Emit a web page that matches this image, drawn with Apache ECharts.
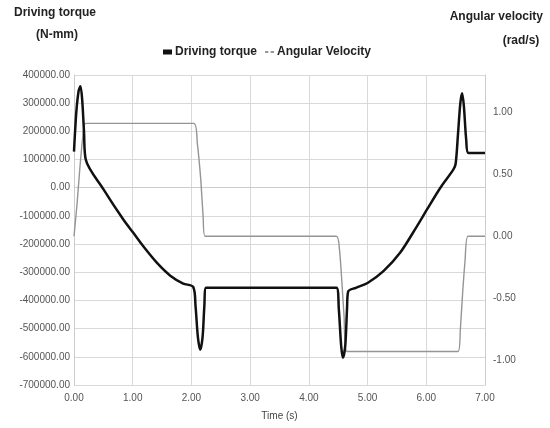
<!DOCTYPE html>
<html lang="en">
<head>
    <meta charset="UTF-8">
    <title>Driving torque / Angular velocity</title>
    <script src="https://cdn.jsdelivr.net/npm/echarts@6/dist/echarts.min.js"></script>
    <style>
        html, body { margin: 0; padding: 0; background: #fff; }
    </style>
</head>
<body>
<div id="main" style="width: 550px;height:428px;"></div>
<script>
    // torque curve (N-mm) vs time (s)
    var torqueTime = [0.00, 0.04, 0.08, 0.11, 0.14, 0.17, 0.20, 0.50, 0.84, 1.01, 1.18, 1.41, 1.64, 1.86, 2.03,
        2.07, 2.11, 2.15, 2.19, 2.22, 2.25, 4.47, 4.51, 4.55, 4.58, 4.62, 4.65, 4.67,
        4.80, 5.00, 5.27, 5.55, 5.84, 6.01, 6.24, 6.46, 6.50, 6.54, 6.58, 6.61, 6.64, 6.68, 6.72, 7.00];
    var torqueValues = [128000, 270000, 345000, 360000, 310000, 200000, 100000, -5000, -113000, -160000, -208000, -266000, -312000, -340000, -352000,
        -420000, -530000, -575000, -530000, -420000, -355000, -355000, -430000, -560000, -603000, -560000, -430000, -368000,
        -355000, -338000, -296000, -232000, -137000, -78000, 0, 64000, 85000, 190000, 300000, 335000, 290000, 170000, 123000, 123000];

    // angular velocity (rad/s) vs time (s)
    var velTime = [0.00, 0.05, 0.10, 0.15, 0.20, 2.04, 2.10, 2.16, 2.20, 2.23, 4.47, 4.52, 4.56, 4.60, 4.65,
        6.54, 6.58, 6.62, 6.66, 6.71, 7.00];
    var velValues = [0.00, 0.25, 0.55, 0.80, 0.91, 0.91, 0.75, 0.45, 0.15, 0.00, 0.00, -0.10, -0.35, -0.65, -0.93,
        -0.93, -0.75, -0.45, -0.20, 0.00, 0.00];

    var torqueData = torqueTime.map(function (t, i) { return [t, torqueValues[i]]; });
    var velData = velTime.map(function (t, i) { return [t, velValues[i]]; });

    var font = "'Liberation Sans', Arial, sans-serif";
    var lbl = { color: '#555', fontSize: 10, fontFamily: font };
    var head = { fontSize: 12, fontWeight: 'bold', color: '#222', fontFamily: font };

    var myChart = echarts.init(document.getElementById('main'));
    var option = {
        animation: false,
        backgroundColor: '#fff',
        title: [
            { text: 'Driving torque', left: 50, top: 2, textAlign: 'center', textStyle: head },
            { text: '(N-mm)', left: 52, top: 24, textAlign: 'center', textStyle: head },
            { text: 'Angular velocity', right: 2, top: 6, textStyle: head },
            { text: '(rad/s)', left: 516, top: 30, textAlign: 'center', textStyle: head }
        ],
        legend: {
            top: 41,
            left: 158,
            itemGap: 8,
            itemWidth: 9,
            itemHeight: 5,
            textStyle: Object.assign({ padding: [0, 0, 0, -2] }, head),
            data: [
                { name: 'Driving torque', icon: 'rect', itemStyle: { color: '#111' } },
                { name: 'Angular Velocity', icon: 'path://M0,4h3v1.5h-3z M5,4h3v1.5h-3z', itemStyle: { color: '#777' } }
            ]
        },
        grid: { left: 74, right: 65, top: 75, bottom: 43 },
        xAxis: {
            type: 'value',
            min: 0,
            max: 7,
            interval: 1,
            name: 'Time (s)',
            nameLocation: 'middle',
            nameGap: 26,
            nameTextStyle: { color: '#444', fontSize: 10, fontFamily: font },
            axisLine: { lineStyle: { color: '#ccc' } },
            axisTick: { show: false },
            axisLabel: Object.assign({ margin: 8, formatter: function (v) { return v.toFixed(2); } }, lbl),
            splitLine: { lineStyle: { color: '#d9d9d9' } }
        },
        yAxis: [
            {
                type: 'value',
                min: -700000,
                max: 400000,
                interval: 100000,
                axisLine: { show: true, lineStyle: { color: '#ccc' } },
                axisTick: { show: false },
                axisLabel: Object.assign({ margin: 4, formatter: function (v) { return v.toFixed(2); } }, lbl),
                splitLine: { lineStyle: { color: '#d9d9d9' } }
            },
            {
                type: 'value',
                min: -1.2,
                max: 1.3,
                interval: 0.1,
                axisLine: { show: true, lineStyle: { color: '#ccc' } },
                axisTick: { show: false },
                axisLabel: Object.assign({
                    margin: 8,
                    formatter: function (v) {
                        var d = v * 2;
                        if (Math.abs(d - Math.round(d)) > 1e-6 || Math.abs(v) > 1.01) return '';
                        return (Math.round(d) / 2).toFixed(2);
                    }
                }, lbl),
                splitLine: { show: false }
            }
        ],
        series: [
            {
                name: 'Driving torque',
                type: 'line',
                yAxisIndex: 0,
                data: torqueData,
                showSymbol: false,
                smooth: 0.3,
                lineStyle: { color: '#111', width: 2.5 },
                itemStyle: { color: '#111' },
                z: 3
            },
            {
                name: 'Angular Velocity',
                type: 'line',
                yAxisIndex: 1,
                data: velData,
                showSymbol: false,
                smooth: 0.2,
                lineStyle: { color: '#959595', width: 1.4 },
                itemStyle: { color: '#959595' },
                z: 2
            }
        ]
    };
    myChart.setOption(option);
</script>
</body>
</html>
